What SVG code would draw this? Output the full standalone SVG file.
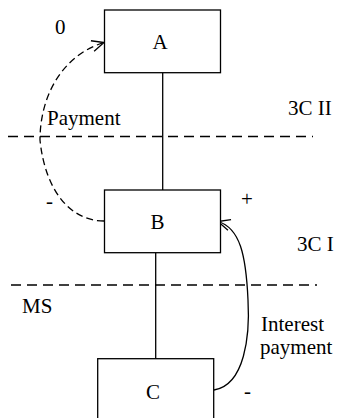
<svg xmlns="http://www.w3.org/2000/svg" width="339" height="418" viewBox="0 0 339 418">
  <style>
    .box { fill: #fff; stroke: #000; stroke-width: 1.3; }
    .link { stroke: #000; stroke-width: 1.3; fill: none; }
    .sep { stroke: #000; stroke-width: 1.3; stroke-dasharray: 10 6; fill: none; }
    .dash { stroke: #000; stroke-width: 1.3; stroke-dasharray: 7 4; fill: none; }
    .curve { stroke: #000; stroke-width: 1.3; fill: none; }
    text { font-family: "Liberation Serif", "Times New Roman", serif; font-size: 21px; fill: #000; }
  </style>
  <defs>
    <marker id="open" markerUnits="userSpaceOnUse" markerWidth="14" markerHeight="12" refX="12" refY="5.5" orient="auto" overflow="visible">
      <path d="M0,0 L12,5.5 L0,11" fill="none" stroke="#000" stroke-width="1.3"/>
    </marker>
  </defs>
  <rect width="339" height="418" fill="#fff"/>

  <g id="separators">
    <line class="sep" x1="8" y1="136.5" x2="313" y2="136.5"/>
    <line class="sep" x1="11" y1="285" x2="317" y2="285"/>
  </g>

  <g id="connectors">
    <line class="link" x1="162.7" y1="72.7" x2="162.7" y2="190"/>
    <line class="link" x1="155.7" y1="252.7" x2="155.7" y2="358.7"/>
    <path class="dash" d="M104,221 C70,221 45,190 40,140 C40,95 63,55 104,42.5" marker-end="url(#open)"/>
    <path class="curve" d="M214,390 C245,385 250,335 248,300 C246,255 240,228 218,221.5" marker-end="url(#open)"/>
  </g>

  <g id="node-A">
    <rect class="box" x="104.5" y="10" width="116" height="62.7"/>
    <text x="160" y="49" text-anchor="middle">A</text>
  </g>
  <g id="node-B">
    <rect class="box" x="104.5" y="190" width="116" height="62.7"/>
    <text x="157.5" y="229" text-anchor="middle">B</text>
  </g>
  <g id="node-C">
    <rect class="box" x="97.7" y="358.7" width="116" height="70"/>
    <text x="153" y="399" text-anchor="middle">C</text>
  </g>

  <g id="labels">
    <text x="55" y="34">0</text>
    <text x="47" y="125">Payment</text>
    <text x="288" y="115">3C II</text>
    <text x="46" y="208">-</text>
    <text x="241" y="206">+</text>
    <text x="297" y="251">3C I</text>
    <text x="22" y="313">MS</text>
    <text x="261" y="331">Interest</text>
    <text x="260" y="354">payment</text>
    <text x="244" y="398">-</text>
  </g>
</svg>
